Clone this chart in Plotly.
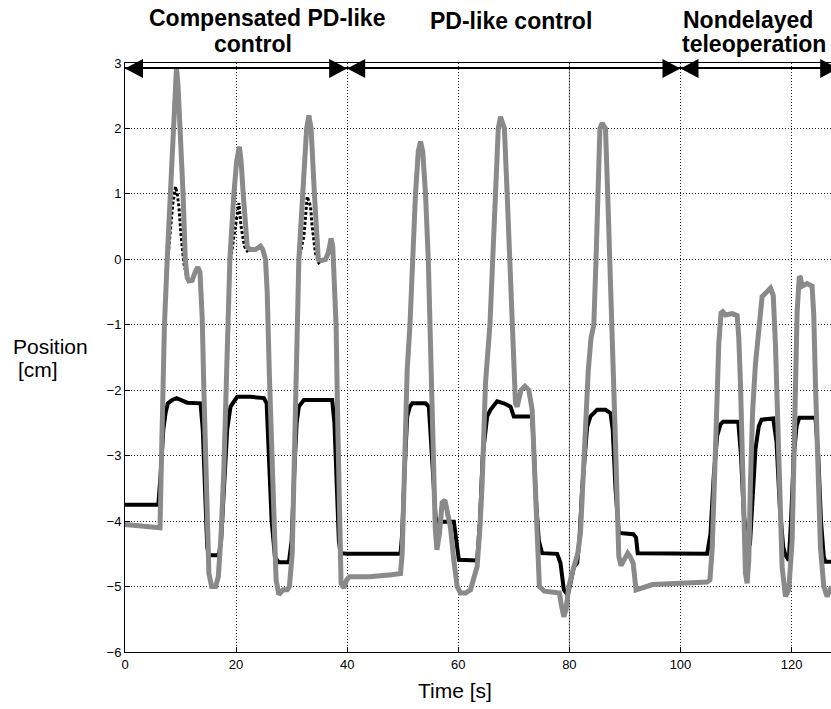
import plotly.graph_objects as go

# ---------------- data ----------------
gray_t = [0, 3, 5.8, 6.3, 6.5, 6.75, 7.1, 7.6, 8.1, 8.6, 8.95, 9.27, 9.55, 9.95, 10.45, 10.85, 11.2, 11.5, 12.1, 12.6, 13.1, 13.5, 13.9,
          14.2, 14.5, 14.75, 15.1, 15.6, 16.3, 16.8, 17.3, 17.8, 18.1, 18.4, 18.88, 19.6, 20.1, 20.6, 20.9, 21.28, 21.6, 22.0, 22.5,
          23.5, 24.4, 24.8, 25.3, 25.6, 26.0, 26.4, 26.8, 27.2, 27.7, 28.5, 29.2, 29.6, 30.1, 30.45, 30.7, 30.9, 31.3, 32.0, 32.7,
          33.1, 33.5, 34.1, 34.8, 35.3, 36.1, 36.6, 37.1, 37.4, 37.7, 38.0, 38.3, 38.6, 38.9, 39.4, 39.9, 40.4, 44.0, 48.0,
          49.6, 49.9, 50.2, 50.5, 50.8, 51.3, 51.7, 52.3, 52.8, 53.2, 53.6, 54.1, 54.6, 54.9, 55.2, 55.5, 55.85, 56.15, 56.6,
          57.1, 57.6, 58.0, 58.6, 59.2, 59.8, 60.4, 61.3, 62.2, 62.8, 63.4, 63.9, 64.3, 64.9, 65.7, 66.2, 66.7, 67.2, 67.6,
          68.0, 68.3, 68.8, 69.3, 69.7, 70.0, 70.3, 70.6, 71.3, 72.0, 72.7, 73.3, 73.6, 73.9, 74.3, 74.6, 75.5, 77.0, 78.2,
          78.6, 79.0, 79.4, 79.9, 80.8, 81.5, 82.0, 82.5, 82.9, 83.4, 83.9, 84.4, 84.8, 85.2, 85.5, 85.9, 86.5, 86.9, 87.3,
          87.7, 88.0, 88.3, 88.6, 88.9, 89.3, 89.9, 90.5, 91.0, 91.5, 92.0, 95.0, 100.0, 104.8, 105.3, 105.7, 106.3, 106.6,
          106.9, 107.3, 107.6, 108.1, 109.3, 110.2, 110.5, 110.8, 111.3, 111.7, 112.0, 112.3, 112.6, 113.0, 113.5, 114.1,
          114.7, 115.3, 115.8, 116.2, 116.7, 117.1, 117.7, 118.3, 118.9, 119.5, 120.1, 120.4, 120.7, 121.0, 121.4, 121.6,
          121.9, 122.8, 123.7, 124.0, 124.3, 124.6, 125.2, 125.8, 126.4, 127.2]
gray_v = [-4.05, -4.07, -4.08, -4.1, -3.3, -2.0, -1.0, 0.0, 1.0, 2.0, 2.6, 2.93, 2.65, 2.0, 1.0, 0.0, -0.28, -0.33, -0.32, -0.2, -0.12, -0.2, -0.9,
          -2.0, -3.2, -4.2, -4.8, -5.0, -5.0, -4.85, -4.2, -3.2, -2.2, -1.0, 0.0, 1.0, 1.5, 1.72, 1.5, 1.0, 0.5, 0.2, 0.15,
          0.15, 0.2, 0.15, 0.0, -0.5, -1.8, -3.0, -4.0, -4.9, -5.12, -5.05, -5.05, -5.0, -4.5, -3.2, -2.0, -1.0, 0.0, 1.0, 2.0,
          2.2, 2.0, 1.0, 0.0, -0.02, 0.0, 0.1, 0.32, 0.2, -0.3, -1.0, -2.5, -4.2, -4.95, -5.02, -4.9, -4.85, -4.85, -4.82,
          -4.8, -4.5, -3.3, -2.3, -1.69, -1.0, 0.0, 1.0, 1.65, 1.8, 1.65, 1.0, 0.0, -1.0, -2.2, -3.4, -4.1, -4.44, -4.2,
          -3.72, -3.68, -3.85, -4.1, -4.6, -5.0, -5.1, -5.1, -5.05, -4.9, -4.69, -4.1, -3.42, -1.89, -1.0, 0.0, 1.0, 2.0, 2.18,
          2.05, 2.0, 1.0, 0.0, -1.0, -1.7, -2.2, -2.25, -2.0, -1.94, -2.0, -2.3, -2.9, -3.6, -4.6, -5.0, -5.07, -5.08, -5.1,
          -5.3, -5.46, -5.35, -5.0, -4.7, -4.5, -4.18, -3.3, -2.4, -1.7, -1.2, -1.0, 0.0, 1.0, 2.0, 2.08, 2.0, 1.0, 0.0,
          -1.0, -1.6, -2.8, -3.7, -4.54, -4.68, -4.6, -4.49, -4.55, -4.65, -5.05, -4.97, -4.95, -4.93, -4.9, -4.44, -2.91,
          -1.89, -1.28, -0.82, -0.8, -0.85, -0.83, -0.86, -1.2, -1.9, -3.4, -4.8, -4.95, -4.6, -3.4, -2.3, -1.6, -1.1,
          -0.57, -0.52, -0.47, -0.44, -0.55, -1.3, -3.0, -4.7, -5.15, -5.05, -4.3, -3.0, -1.8, -0.8, -0.26, -0.28,
          -0.41, -0.37, -0.41, -0.86, -1.9, -2.9, -4.4, -5.0, -5.15, -5.0]

black_t = [0, 6.0, 6.4, 6.9, 7.3, 7.7, 8.5, 9.3, 11.2, 13.6, 14.0, 14.4, 14.8, 15.1, 16.9, 17.3, 17.8, 18.4, 19.0, 20.2, 22.5,
           25.0, 25.5, 25.9, 26.4, 27.0, 27.7, 29.5, 30.0, 30.5, 30.9, 31.3, 32.2, 35.0, 37.3, 37.7, 38.1, 38.5, 38.8,
           40.0, 49.6, 49.9, 50.3, 50.8, 51.3, 51.7, 52.6, 54.1, 54.7, 55.0, 55.4, 55.9, 56.2, 59.2, 59.5, 59.8, 60.1, 63.4,
           63.9, 64.4, 65.2, 65.8, 67.0, 68.2, 69.4, 70.0, 73.3, 73.6, 74.0, 74.5, 75.1, 77.8, 78.1, 78.4, 79.0, 79.7, 80.2,
           80.8, 81.4, 81.8, 82.3, 82.8, 83.2, 83.8, 85.0, 86.5, 87.4, 87.8, 88.3, 88.9, 91.5, 92.0, 92.3, 104.8, 105.4,
           106.0, 106.6, 107.2, 107.7, 110.4, 110.9, 111.4, 112.0, 112.5, 112.9, 113.5, 114.1, 114.6, 116.7, 117.3, 117.9,
           118.5, 118.9, 119.5, 119.9, 120.4, 120.9, 121.4, 124.3, 124.8, 125.3, 125.8, 126.1, 127.2]
black_v = [-3.75, -3.75, -3.3, -2.6, -2.35, -2.2, -2.15, -2.12, -2.19, -2.2, -2.6, -3.6, -4.4, -4.52, -4.52, -4.3, -3.4, -2.6, -2.25, -2.1, -2.1,
           -2.12, -2.2, -3.0, -4.0, -4.55, -4.63, -4.63, -4.3, -3.2, -2.5, -2.25, -2.15, -2.15, -2.15, -2.5, -3.4, -4.3, -4.49,
           -4.5, -4.5, -4.2, -3.3, -2.4, -2.25, -2.2, -2.2, -2.2, -2.25, -2.6, -3.2, -3.93, -4.01, -4.01, -4.2, -4.5, -4.59, -4.6,
           -4.0, -3.0, -2.4, -2.3, -2.17, -2.2, -2.25, -2.4, -2.4, -2.9, -3.7, -4.3, -4.49, -4.5, -4.57, -4.64, -5.05, -5.13, -4.95,
           -4.7, -4.64, -4.3, -3.5, -2.9, -2.56, -2.4, -2.3, -2.3, -2.35, -2.6, -3.5, -4.18, -4.2, -4.25, -4.49, -4.5, -4.2,
           -3.3, -2.7, -2.52, -2.48, -2.48, -3.0, -3.9, -4.3, -4.37, -3.8, -2.9, -2.55, -2.45, -2.43, -2.8, -3.8,
           -4.4, -4.52, -4.6, -4.0, -3.0, -2.55, -2.42, -2.42, -3.0, -4.0, -4.55, -4.62, -4.62]

# dashed trace (visible only around the peaks of the compensated section; None = gap)
dash_t = [7.7, 8.1, 8.6, 9.1, 9.4, 9.7, 10.1, 10.6, 11.2, None,
          19.0, 19.6, 20.1, 20.5, 20.9, 21.5, 22.0, 22.4, None,
          31.3, 32.2, 32.8, 33.4, 33.7, 34.3, 34.9, 35.3]
dash_v = [0.0, 0.4, 0.85, 1.11, 1.0, 0.81, 0.35, -0.06, -0.3, None,
          0.0, 0.35, 0.7, 0.86, 0.5, 0.2, 0.13, 0.15, None,
          0.0, 0.35, 0.96, 0.81, 0.5, 0.09, -0.05, -0.02]

x_ticks = [0, 20, 40, 60, 80, 100, 120]
y_ticks = [-6, -5, -4, -3, -2, -1, 0, 1, 2, 3]
section_bounds = [0, 40, 100, 128.4]
section_labels = [("Compensated PD-like", 267, 18), ("control", 253, 44),
                  ("PD-like control", 511, 21), ("Nondelayed", 748, 20)]

# ---------------- layout geometry ----------------
W, H = 831, 709
L, T, B = 125, 63, 57
PW, PH = W - L, H - T - B
XMAX = 127.1
pxu = PW / XMAX


def pxx(px):
    return (px - L) / PW


def pxy(py):
    return (H - B - py) / PH


fig = go.Figure()
fig.add_trace(go.Scatter(x=dash_t, y=dash_v, mode="lines", connectgaps=False,
                         line=dict(color="black", width=3, dash="3px,2px"), showlegend=False))
fig.add_trace(go.Scatter(x=black_t, y=black_v, mode="lines",
                         line=dict(color="black", width=4), showlegend=False))
fig.add_trace(go.Scatter(x=gray_t, y=gray_v, mode="lines",
                         line=dict(color="#8a8a8a", width=5), showlegend=False))

shapes = []
# solid line at x=80
shapes.append(dict(type="line", xref="x", yref="paper", x0=80, x1=80, y0=0, y1=1,
                   line=dict(color="#888888", width=1), layer="below"))
# arrow line
ya = pxy(68)
shapes.append(dict(type="line", xref="x", yref="paper", x0=section_bounds[0], x1=section_bounds[-1],
                   y0=ya, y1=ya, line=dict(color="black", width=2)))
tw = 18 / pxu
ytop, ybot, ymid = pxy(59), pxy(78), pxy(68.5)
for i in range(len(section_bounds) - 1):
    a, b = section_bounds[i], section_bounds[i + 1]
    shapes.append(dict(type="path", xref="x", yref="paper",
                       path=f"M {a},{ymid} L {a + tw},{ytop} L {a + tw},{ybot} Z",
                       fillcolor="black", line=dict(width=0)))
    shapes.append(dict(type="path", xref="x", yref="paper",
                       path=f"M {b},{ymid} L {b - tw},{ytop} L {b - tw},{ybot} Z",
                       fillcolor="black", line=dict(width=0)))

annotations = []
for txt, cx, cy in section_labels:
    annotations.append(dict(text=f"<b>{txt}</b>", xref="paper", yref="paper", x=pxx(cx), y=pxy(cy),
                            xanchor="center", yanchor="middle", showarrow=False,
                            font=dict(family="Arial, Liberation Sans", size=23, color="black")))
annotations.append(dict(text="<b>teleoperation</b>", xref="paper", yref="paper", x=pxx(680), y=pxy(44),
                        xanchor="left", yanchor="middle", showarrow=False,
                        font=dict(family="Arial, Liberation Sans", size=23, color="black")))
annotations.append(dict(text="Position", xref="paper", yref="paper", x=pxx(11), y=pxy(346),
                        xanchor="left", yanchor="middle", showarrow=False,
                        font=dict(family="Arial, Liberation Sans", size=21, color="black")))
annotations.append(dict(text="[cm]", xref="paper", yref="paper", x=pxx(16), y=pxy(369),
                        xanchor="left", yanchor="middle", showarrow=False,
                        font=dict(family="Arial, Liberation Sans", size=21, color="black")))
annotations.append(dict(text="Time [s]", xref="paper", yref="paper", x=pxx(455), y=pxy(690),
                        xanchor="center", yanchor="middle", showarrow=False,
                        font=dict(family="Arial, Liberation Sans", size=21, color="black")))

axis_common = dict(showgrid=True, gridcolor="#222222", griddash="1px,2px", gridwidth=1,
                   zeroline=False, showline=True, linecolor="black", linewidth=1,
                   ticks="inside", ticklen=5, tickcolor="black",
                   tickfont=dict(family="Arial, Liberation Sans", size=13, color="black"))

fig.update_layout(
    width=W, height=H,
    margin=dict(l=L, r=0, t=T, b=B, pad=0),
    paper_bgcolor="white", plot_bgcolor="white",
    xaxis=dict(range=[0, XMAX], tickvals=x_ticks, mirror=True, **axis_common),
    yaxis=dict(range=[-6, 3], tickvals=y_ticks, mirror=False, **axis_common),
    shapes=shapes, annotations=annotations, showlegend=False,
)

fig.write_html("out.html")
